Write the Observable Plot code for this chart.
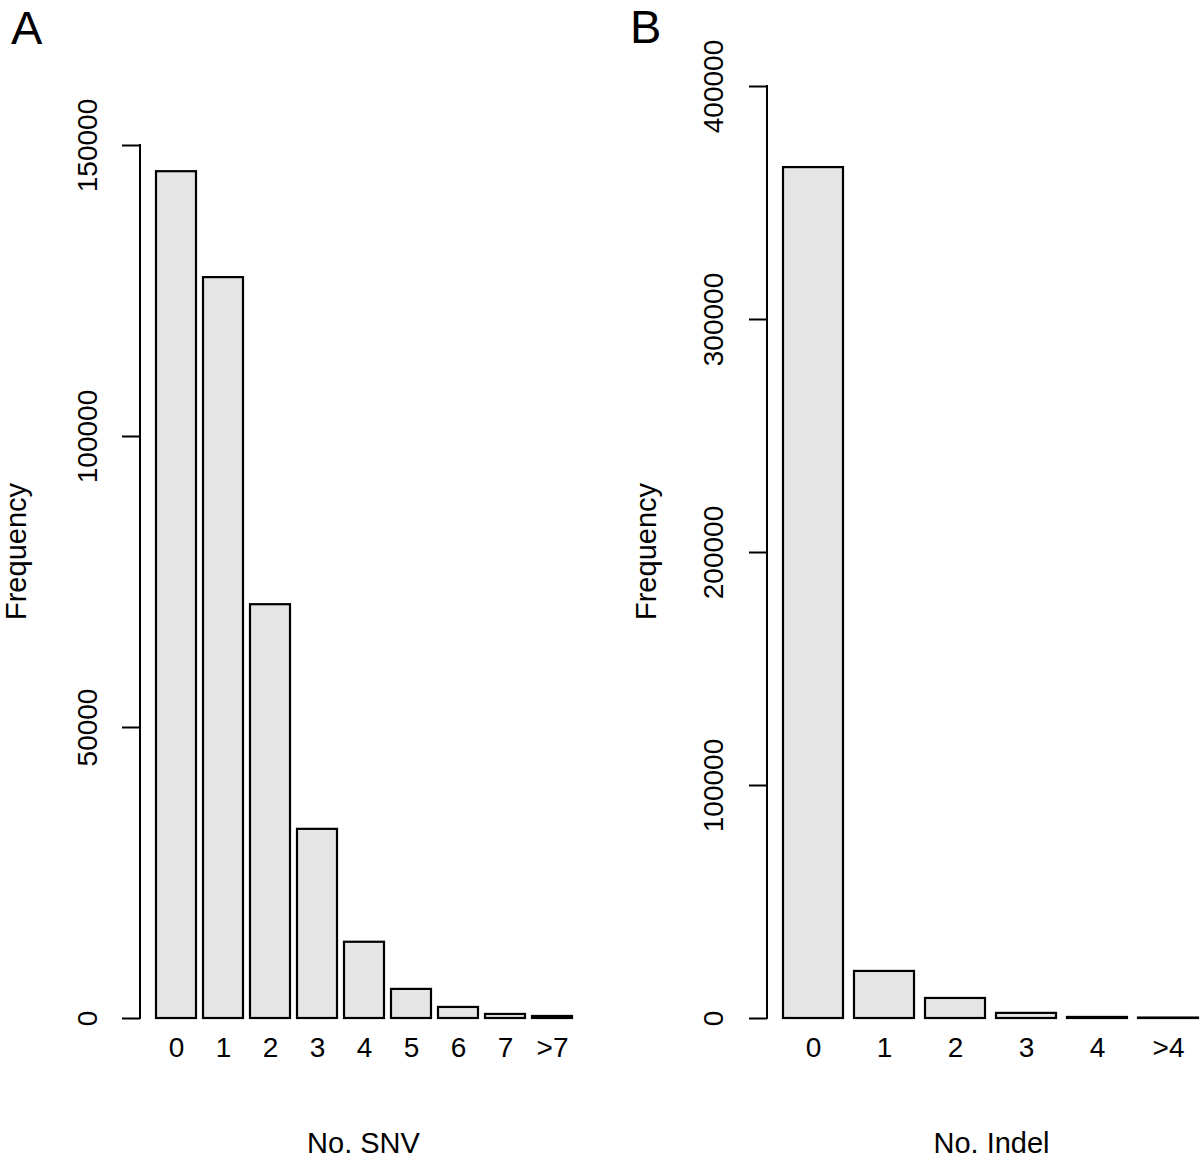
<!DOCTYPE html>
<html><head><meta charset="utf-8">
<script src="https://cdn.jsdelivr.net/npm/d3@7"></script>
<script src="https://cdn.jsdelivr.net/npm/@observablehq/plot@0.6"></script>
<style>
body{margin:0;background:#fff;font-family:"Liberation Sans",Arial,sans-serif;}
#wrap{position:relative;width:1200px;height:1161px;overflow:hidden;}
.panel{position:absolute;top:0;}
.tag{position:absolute;font-size:47px;line-height:47px;color:#000;}
</style></head><body>
<div id="wrap">
<div class="panel" id="pa" style="left:0"></div>
<div class="panel" id="pb" style="left:600px"></div>
<div class="tag" style="left:11px;top:4px">A</div>
<div class="tag" style="left:630px;top:3px">B</div>
</div>
<script>
// Panel A: number of SNVs
const snvCategories = ["0","1","2","3","4","5","6","7",">7"];
const snvCounts = [145500,127300,71100,32500,13100,5000,1900,700,350];
const snvTicks = [0,50000,100000,150000];
const snvLabel = "No. SNV";

// Panel B: number of indels
const indelCategories = ["0","1","2","3","4",">4"];
const indelCounts = [365200,20200,8600,2200,450,200];
const indelTicks = [0,100000,200000,300000,400000];
const indelLabel = "No. Indel";

const yTitle = "Frequency";

function panel({cats, counts, ticks, xLabel, marginLeft, marginRight, marginTop, xRange, xLabelDx, yTitleDx, yTitleDy, tickDx}) {
  const data = cats.map((c, i) => ({cat: c, count: counts[i]}));
  const marginBottom = 143;
  const chart = Plot.plot({
    width: 600, height: 1161,
    marginLeft, marginRight, marginTop, marginBottom,
    style: {fontFamily: "'Liberation Sans', Arial, sans-serif", background: "white", color: "black"},
    x: {type: "band", domain: cats, range: xRange, paddingInner: 0.15, paddingOuter: 0, axis: null, label: null},
    y: {domain: [0, ticks[ticks.length - 1]], axis: null, label: null},
    marks: [
      Plot.barY(data, {x: "cat", y: "count", fill: "#e5e5e5", stroke: "black", strokeWidth: 2.2}),
      Plot.axisY(ticks, {tickSize: 18, strokeWidth: 2, tickFormat: () => "", label: null}),
      Plot.text(ticks, {y: d => d, text: d => String(d), frameAnchor: "left", dx: tickDx, rotate: -90,
        textAnchor: "middle", lineAnchor: "middle", fontSize: 28, fill: "black"}),
      Plot.text(data, {x: "cat", text: "cat", frameAnchor: "bottom", dy: 30, textAnchor: "middle", lineAnchor: "middle", fontSize: 28, fill: "black"}),
      Plot.text([xLabel], {text: d => d, frameAnchor: "bottom", dx: xLabelDx, dy: 125.5, textAnchor: "middle", lineAnchor: "middle", fontSize: 29, fill: "black"}),
      Plot.text([yTitle], {text: d => d, frameAnchor: "left", dx: yTitleDx, dy: yTitleDy, rotate: -90, textAnchor: "middle", lineAnchor: "middle", fontSize: 29, fill: "black"})
    ]
  });
  // axis line from first to last tick, positioned through Plot's own y scale
  const y = chart.scale("y");
  d3.select(chart).append("line")
    .attr("x1", marginLeft).attr("x2", marginLeft)
    .attr("y1", y.apply(ticks[0])).attr("y2", y.apply(ticks[ticks.length - 1]))
    .attr("stroke", "black").attr("stroke-width", 2).attr("stroke-linecap", "square");
  return chart;
}

document.getElementById("pa").appendChild(panel({
  cats: snvCategories, counts: snvCounts, ticks: snvTicks, xLabel: snvLabel,
  marginLeft: 140, marginRight: 12, marginTop: 145, xRange: [156, 572],
  xLabelDx: -1, yTitleDx: -124, yTitleDy: -30.5, tickDx: -52.5
}));
document.getElementById("pb").appendChild(panel({
  cats: indelCategories, counts: indelCounts, ticks: indelTicks, xLabel: indelLabel,
  marginLeft: 167, marginRight: 0, marginTop: 86, xRange: [183, 599],
  xLabelDx: 7.5, yTitleDx: -121, yTitleDy: -1, tickDx: -53
}));
</script>
</body></html>
